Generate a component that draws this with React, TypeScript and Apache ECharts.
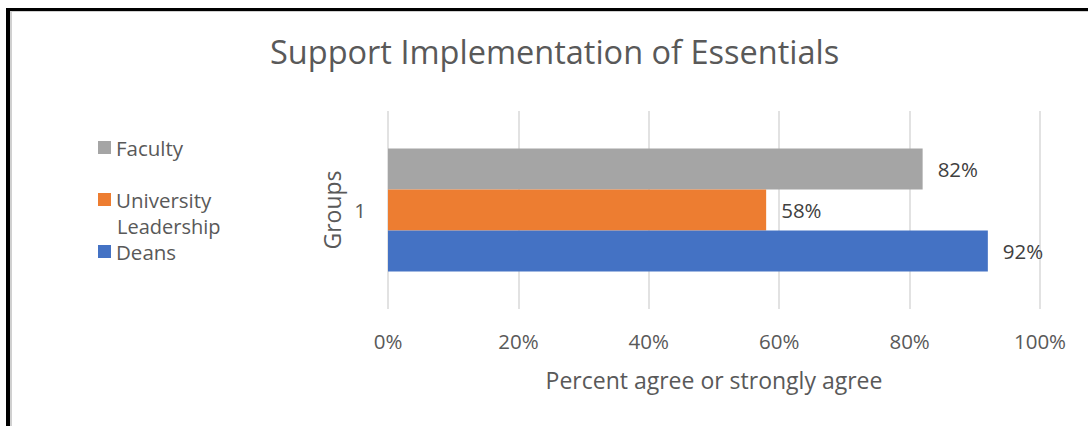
import React, { useEffect, useRef } from "react";
import * as echarts from "echarts";

const title = "Support Implementation of Essentials";
const categories = ["1"];
const seriesNames = ["Faculty", "University Leadership", "Deans"];
const seriesValues = [[0.82], [0.58], [0.92]];
const seriesColors = ["#A5A5A5", "#ED7D31", "#4472C4"];
const legendOrder = ["Faculty", "University Leadership", "Deans"];
const xTicks = { min: 0, max: 1, interval: 0.2 };
const xAxisName = "Percent agree or strongly agree";
const yAxisName = "Groups";

const FONT = "'Open Sans', sans-serif";

export default function App() {
  const ref = useRef<HTMLDivElement>(null);
  useEffect(() => {
    if (!ref.current) return;
    const chart = echarts.init(ref.current, null, { renderer: "svg" });
    const pct = (v: number) => `${Math.round(v * 100)}%`;
    chart.setOption({
      animation: false,
      backgroundColor: "#ffffff",
      textStyle: { fontFamily: FONT },
      title: {
        text: title,
        left: 270,
        top: 35,
        padding: 0,
        textStyle: { fontFamily: FONT, fontSize: 32.5, fontWeight: "normal", color: "#595959" },
      },
      legend: {
        orient: "vertical",
        left: 98,
        top: 137,
        padding: 0,
        itemWidth: 13,
        itemHeight: 13,
        itemGap: 31,
        itemStyle: { borderWidth: 0 },
        icon: "rect",
        data: legendOrder,
        formatter: (n: string) => (n === "University Leadership" ? "University" : n),
        textStyle: { fontFamily: FONT, fontSize: 20.5, color: "#595959" },
      },
      graphic: [
        {
          type: "text",
          left: 117,
          top: 216,
          style: { text: "Leadership", font: `20px ${FONT}`, lineHeight: 18, fill: "#595959" },
        },
      ],
      grid: { left: 388, right: 48, top: 111, bottom: 117, containLabel: false },
      xAxis: {
        type: "value",
        min: xTicks.min,
        max: xTicks.max,
        interval: xTicks.interval,
        axisLine: { show: false },
        axisTick: { show: false },
        splitLine: { show: true, lineStyle: { color: "#D9D9D9", width: 1.5 } },
        axisLabel: { formatter: pct, fontFamily: FONT, fontSize: 20.5, color: "#595959", margin: 21 },
        name: xAxisName,
        nameLocation: "middle",
        nameGap: 59,
        nameTextStyle: { fontFamily: FONT, fontSize: 23, color: "#595959" },
      },
      yAxis: {
        type: "category",
        data: categories,
        axisLine: { show: false },
        axisTick: { show: false },
        axisLabel: { fontFamily: FONT, fontSize: 20.5, color: "#595959", margin: 22 },
        name: yAxisName,
        nameLocation: "middle",
        nameGap: 42,
        nameRotate: 90,
        nameTextStyle: { fontFamily: FONT, fontSize: 23, color: "#595959" },
      },
      series: seriesNames.map((name, i) => ({
        name,
        type: "bar",
        data: seriesValues[i],
        barWidth: 41,
        barGap: "0%",
        itemStyle: { color: seriesColors[i] },
        label: {
          show: true,
          position: "right",
          distance: 15,
          formatter: (p: any) => pct(p.value),
          fontFamily: FONT,
          fontSize: 20.5,
          color: "#404040",
        },
      })),
    });
    return () => chart.dispose();
  }, []);

  return (
    <div style={{ position: "fixed", left: 0, top: 0, width: 1088, height: 426, background: "#fff", overflow: "hidden" }}>
      <div ref={ref} style={{ position: "absolute", left: 0, top: 0, width: 1088, height: 426 }} />
      <div style={{ position: "absolute", left: 6, top: 8, width: 4, height: 418, background: "#000" }} />
      <div style={{ position: "absolute", left: 6, top: 8, width: 1082, height: 3, background: "#000" }} />
      <div style={{ position: "absolute", left: 10, top: 11, width: 2, height: 415, background: "#D0D0D0" }} />
      <div style={{ position: "absolute", left: 10, top: 11, width: 1078, height: 1, background: "#D0D0D0" }} />
    </div>
  );
}
